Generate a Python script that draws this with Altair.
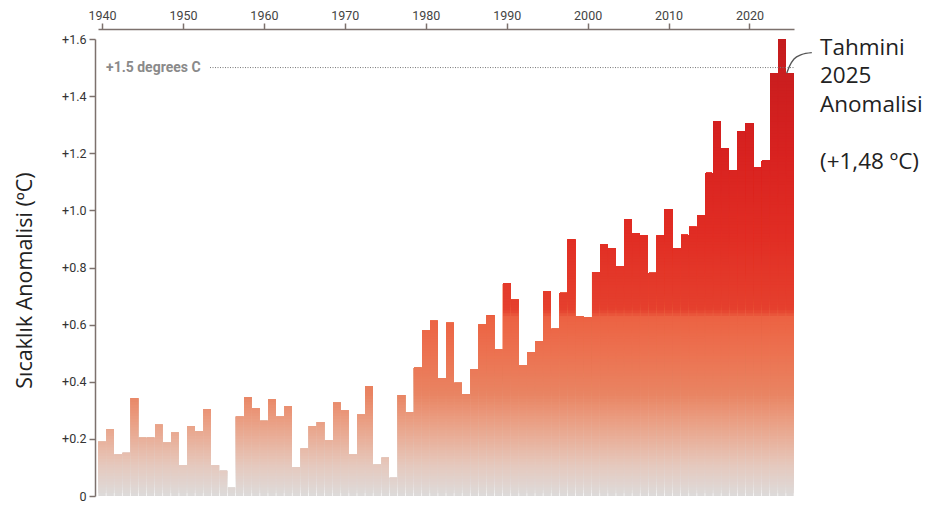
import altair as alt
import pandas as pd
import numpy as np

# ---- data ----
years = list(range(1940, 2026))
anomalies = [
    0.19, 0.234, 0.145, 0.151, 0.342, 0.204, 0.204, 0.25, 0.187, 0.222,
    0.108, 0.245, 0.227, 0.304, 0.108, 0.088, 0.03, 0.278, 0.346, 0.308,
    0.263, 0.339, 0.278, 0.315, 0.101, 0.166, 0.245, 0.259, 0.195, 0.327,
    0.30, 0.145, 0.285, 0.384, 0.11, 0.134, 0.064, 0.353, 0.294, 0.449,
    0.579, 0.613, 0.413, 0.606, 0.396, 0.357, 0.443, 0.60, 0.632, 0.512,
    0.745, 0.687, 0.457, 0.504, 0.542, 0.716, 0.585, 0.711, 0.897, 0.628,
    0.624, 0.784, 0.88, 0.867, 0.805, 0.968, 0.919, 0.911, 0.781, 0.911,
    1.004, 0.867, 0.914, 0.942, 0.983, 1.131, 1.312, 1.217, 1.14, 1.275,
    1.304, 1.149, 1.175, 1.48, 1.60, 1.48,
]
decade_ticks = [1940, 1950, 1960, 1970, 1980, 1990, 2000, 2010, 2020]
y_ticks = [round(0.1 * i, 1) for i in range(17)]
threshold = [1.5]
threshold_label = ["+1.5 degrees C"]
annotation_head = ["Tahmini\n2025\nAnomalisi"]
annotation_value = ["(+1,48 ºC)"]
leader_years = [2024.6, 2024.95, 2025.5, 2026.4, 2027.7]
leader_values = [1.48, 1.505, 1.53, 1.545, 1.552]

# colour stops of the vertical gradient (by anomaly level)
grad_levels = [0.0, 0.1, 0.2, 0.35, 0.5, 0.62, 0.645, 0.9, 1.2, 1.6]
grad_colors = ["#dddad9", "#e5c9be", "#e9ae98", "#e98463", "#ec7150",
               "#ec6243", "#e5402e", "#e12d24", "#d82220", "#c41c1e"]

# each bar is drawn as overlapping slices so that its fill follows the
# chart-wide vertical gradient
step = 0.01
rows = []
for lvl in np.arange(0, 1.6, step):
    for yr, val in zip(years, anomalies):
        if val > lvl:
            rows.append({"year": yr, "level": round(float(lvl), 3), "top": val})
seg = pd.DataFrame(rows).sort_values("level", kind="stable")

axis_col = "#7c716d"

xscale = alt.Scale(domain=[1939.5, 2025.5], nice=False, zero=False)
yscale = alt.Scale(domain=[0, 1.6], nice=False, zero=True)

bars = alt.Chart(seg).transform_calculate(
    x0="datum.year - 0.46", x1="datum.year + 0.46"
).mark_rect(strokeWidth=0).encode(
    x=alt.X("x0:Q", scale=xscale, axis=alt.Axis(
        orient="top", values=decade_ticks, format="d", offset=10,
        tickSize=6, tickWidth=1.5, domainWidth=1.5,
        domainColor=axis_col, tickColor=axis_col, grid=False,
        labelFont="Roboto", labelFontSize=12.5, labelColor="#444",
        labelPadding=1, title=None)),
    x2="x1:Q",
    y=alt.Y("level:Q", scale=yscale, axis=alt.Axis(
        values=y_ticks, offset=3, tickSize=6, tickWidth=1.5, domainWidth=1.5,
        domainColor=axis_col, tickColor=axis_col, grid=False,
        labelExpr="datum.value == 0 ? '0' : (round(datum.value * 10) % 2 == 0 ? '+' + format(datum.value, '.1f') : '')",
        labelFont="Roboto", labelFontSize=12.5, labelColor="#333", labelPadding=3,
        title="Sıcaklık Anomalisi (ºC)", titleFont="Open Sans",
        titleFontSize=21.5, titleFontWeight="normal", titleColor="#222",
        titleAngle=-90, titleX=-70, titleY=241, titleAlign="center",
        titleBaseline="middle")),
    y2="top:Q",
    color=alt.Color("level:Q", scale=alt.Scale(domain=grad_levels, range=grad_colors),
                    legend=None),
)

thr_df = pd.DataFrame({"value": threshold, "label": threshold_label})
rule = alt.Chart(thr_df).mark_rule(color="#777", strokeWidth=1, strokeDash=[1, 1.5]).encode(
    y=alt.Y("value:Q", scale=yscale),
    x=alt.value(112), x2=alt.value(696),
)
rule_label = alt.Chart(thr_df).mark_text(
    align="left", baseline="middle", font="Roboto", fontWeight="bold",
    fontSize=14, color="#8a8a8a"
).encode(y=alt.Y("value:Q", scale=yscale), x=alt.value(8), text="label:N")

ann_head = alt.Chart(pd.DataFrame({"t": annotation_head})).mark_text(
    align="left", baseline="alphabetic", lineBreak="\n", lineHeight=28.7,
    font="Open Sans", fontSize=22.5, color="#222"
).encode(x=alt.value(722), y=alt.value(15.5), text="t:N")

ann_val = alt.Chart(pd.DataFrame({"t": annotation_value})).mark_text(
    align="left", baseline="alphabetic",
    font="Open Sans", fontSize=22.5, color="#222"
).encode(x=alt.value(722), y=alt.value(130), text="t:N")

leader = alt.Chart(pd.DataFrame({"yr": leader_years, "v": leader_values})).mark_line(
    color="#555", strokeWidth=1.3, interpolate="monotone", clip=False
).encode(x=alt.X("yr:Q", scale=xscale), y=alt.Y("v:Q", scale=yscale))

chart = alt.layer(bars, rule, rule_label, leader, ann_head, ann_val).properties(
    width=696, height=457,
    autosize=alt.AutoSizeParams(type="none"),
    padding={"left": 90, "top": 31, "right": 130, "bottom": 6},
    background="white",
).configure_view(stroke=None)

chart.save("out.html", embed_options={"renderer": "svg", "actions": False})
